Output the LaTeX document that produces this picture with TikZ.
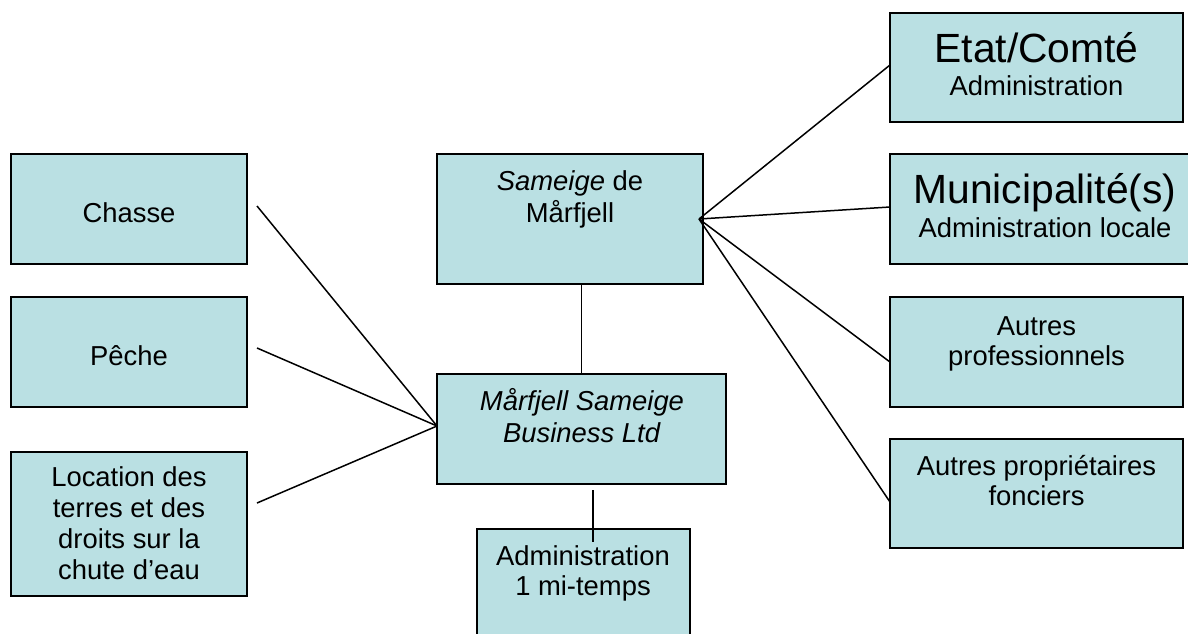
\documentclass[tikz,border=0pt]{standalone}
\usepackage{fontspec}
\setmainfont{Liberation Sans}
\definecolor{boxfill}{RGB}{186,224,227}
\begin{document}
\begin{tikzpicture}[x=0.5pt,y=-0.5pt,
  box/.style={draw=black, line width=1pt, fill=boxfill, anchor=north west, inner sep=0pt, outer sep=0pt},
  txt/.style={anchor=base, inner sep=0pt, font=\fontsize{13.7}{15.5}\selectfont, align=center},
  big/.style={anchor=base, inner sep=0pt, font=\fontsize{20.4}{24}\selectfont},
  conn/.style={draw=black, line width=0.75pt}]
\clip (0,0) rectangle (1188,633);
\useasboundingbox (0,0) rectangle (1188,633);
% left boxes
\node[box, minimum width=118pt, minimum height=55pt] (chasse) at (11,154) {};
\node[box, minimum width=118pt, minimum height=55pt] (peche) at (11,297) {};
\node[box, minimum width=118pt, minimum height=72pt] (location) at (11,452) {};
\node[txt] (chasse-t) at (129,222) {Chasse};
\node[txt] (peche-t) at (129,365) {Pêche};
\node[txt] (location-t) at (129,579) {Location des\\terres et des\\droits sur la\\chute d’eau};
% centre
\node[box, minimum width=133pt, minimum height=65pt] (sameige) at (437,154) {};
\node[txt, font=\fontsize{13.7}{16}\selectfont] (sameige-t) at (570,222) {\textit{Sameige} de\\Mårfjell};
\node[box, minimum width=144.5pt, minimum height=55pt] (business) at (437,374) {};
\node[txt, font=\fontsize{13.7}{16}\selectfont] (business-t) at (582,442) {\textit{Mårfjell Sameige}\\\textit{Business Ltd}};
\node[box, minimum width=106.5pt, minimum height=60pt] (admin) at (477,529) {};
\node[txt, font=\fontsize{13.7}{15}\selectfont] (admin-t) at (583,595) {Administration\\1 mi-temps};
% right
\node[box, minimum width=146.5pt, minimum height=54.5pt] (etat) at (890,13) {};
\node[big] (etat-t) at (1036.5,62) {Etat/Comté};
\node[txt] (etat-s) at (1036.5,95) {Administration};
\node[box, minimum width=160pt, minimum height=55pt] (muni) at (890,154) {};
\node[big] (muni-t) at (1045,203) {Municipalité(s)};
\node[txt] (muni-s) at (1045,237) {Administration locale};
\node[box, minimum width=146.5pt, minimum height=55pt] (prof) at (890,297) {};
\node[txt, font=\fontsize{13.7}{15}\selectfont] (prof-t) at (1036.5,365) {Autres\\professionnels};
\node[box, minimum width=146.5pt, minimum height=54.5pt] (prop) at (890,439) {};
\node[txt, font=\fontsize{13.7}{15}\selectfont] (prop-t) at (1036.5,505) {Autres propriétaires\\fonciers};
% connectors left
\coordinate (bw) at ([yshift=1.5pt]business.west);
\draw[conn] ([xshift=5pt,yshift=1.5pt]chasse.east) -- (bw);
\draw[conn] ([xshift=5pt,yshift=2pt]peche.east) -- (bw);
\draw[conn] ([xshift=5pt,yshift=10.5pt]location.east) -- (bw);
% vertical
\draw[conn] (business.north |- sameige.south) -- (business.north);
\draw[conn] ([xshift=5.75pt,yshift=-3pt]business.south) -- ([xshift=4.75pt,yshift=-6.5pt]admin.north);
% fan right
\coordinate (fan) at ([xshift=-2pt]sameige.east);
\draw[conn] (fan) -- ([yshift=1.25pt]etat.west);
\draw[conn] (fan) -- ([yshift=1pt]muni.west);
\draw[conn] (fan) -- ([yshift=-5pt]prof.west);
\draw[conn] (fan) -- ([yshift=-4.25pt]prop.west);
\end{tikzpicture}
\end{document}
